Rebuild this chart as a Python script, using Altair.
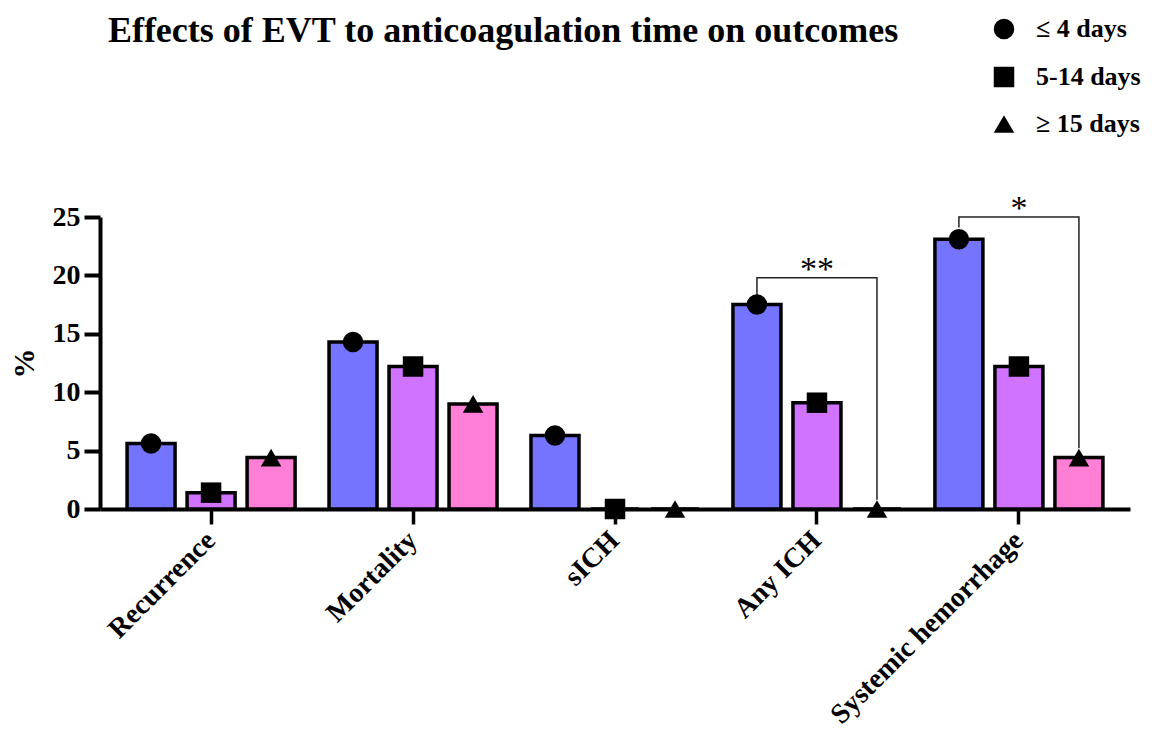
import altair as alt
import pandas as pd

categories = ["Recurrence", "Mortality", "sICH", "Any ICH", "Systemic hemorrhage"]
series = ["≤ 4 days", "5-14 days", "≥ 15 days"]
vals_le4 = [5.6, 14.3, 6.3, 17.5, 23.1]
vals_5_14 = [1.4, 12.2, 0.0, 9.1, 12.2]
vals_ge15 = [4.4, 9.0, 0.0, 0.0, 4.4]
bar_colors = ["#7474FF", "#D074FF", "#FF7ED6"]
shapes = ["circle", "square", "triangle-up"]
y_ticks = [0, 5, 10, 15, 20, 25]

# significance brackets (data units)
sig_cats = ["Any ICH", "Systemic hemorrhage"]
sig_labels = ["**", "*"]
sig_top = [19.8, 25.0]
sig_left_end = [18.2, 24.1]
sig_right_end = [0.8, 5.2]

rows = []
for s, vals in zip(series, [vals_le4, vals_5_14, vals_ge15]):
    for c, v in zip(categories, vals):
        rows.append({"category": c, "series": s, "group": s, "timing": s, "value": v})
df = pd.DataFrame(rows)

brows = []
for i, c in enumerate(sig_cats):
    pts = [(series[0], sig_left_end[i]), (series[0], sig_top[i]),
           (series[2], sig_top[i]), (series[2], sig_right_end[i])]
    for k, (s, v) in enumerate(pts):
        brows.append({"category": c, "series": s, "value": v, "bid": i, "ord": k})
bdf = pd.DataFrame(brows)
sdf = pd.DataFrame({"category": sig_cats, "value": sig_top, "label": sig_labels})

SERIF = "Liberation Serif"

x_axis = alt.Axis(title=None, labelAngle=-45, labelAlign="right", labelBaseline="middle",
                  labelFont=SERIF, labelFontWeight="bold",
                  labelFontSize=28, labelColor="black", labelPadding=12, labelLimit=500,
                  domainWidth=4, domainColor="black", tickWidth=3.5, tickSize=15,
                  tickColor="black", grid=False)
y_axis = alt.Axis(title="%", values=y_ticks, labelFont=SERIF, labelFontWeight="bold",
                  labelFontSize=28, labelColor="black", labelPadding=4,
                  titleFont=SERIF, titleFontWeight="bold", titleFontSize=30,
                  titleColor="black", titlePadding=13,
                  domainWidth=4, domainColor="black", tickWidth=4, tickSize=16,
                  tickColor="black", grid=False)

def X():
    return alt.X("category:N", sort=categories,
                 scale=alt.Scale(paddingInner=0.168, paddingOuter=0.134), axis=x_axis)

def XO():
    return alt.XOffset("series:N", sort=series,
                       scale=alt.Scale(paddingInner=0.2, paddingOuter=0))

def Y():
    return alt.Y("value:Q", scale=alt.Scale(domain=[0, 25], nice=False, zero=True), axis=y_axis)

base = alt.Chart(df)

# colour scale takes its domain from the data (sorted), so its (hidden) legend
# is not merged with the shape legend
bars = base.mark_bar(stroke="black", strokeWidth=3.5).encode(
    x=X(), xOffset=XO(), y=Y(),
    color=alt.Color("group:N", sort=series,
                    scale=alt.Scale(range=bar_colors), legend=None),
)

points = base.mark_point(filled=True, size=420, opacity=1, color="black").encode(
    x=X(), xOffset=XO(), y=Y(),
    shape=alt.Shape("timing:N", sort=series,
                    scale=alt.Scale(domain=series, range=shapes),
                    legend=alt.Legend(title=None, orient="none", legendX=891, legendY=-201,
                                      labelFont=SERIF, labelFontWeight="bold",
                                      labelFontSize=26, labelColor="black",
                                      symbolSize=420, symbolFillColor="black",
                                      symbolStrokeColor="black",
                                      rowPadding=20, labelOffset=19)),
)

brackets = alt.Chart(bdf).mark_line(color="#222222", strokeWidth=1.5).encode(
    x=X(), xOffset=XO(), y=Y(),
    detail="bid:N", order="ord:Q",
)

stars = alt.Chart(sdf).mark_text(font=SERIF, fontSize=34, color="black",
                                 baseline="alphabetic", dy=2).encode(
    x=X(), y=Y(), text="label:N",
)

chart = alt.layer(bars, brackets, points, stars).properties(
    width=1030, height=292,
    autosize=alt.AutoSizeParams(type="none"),
    padding={"left": 92, "top": 209, "right": 12, "bottom": 216},
    title=alt.TitleParams(text="Effects of EVT to anticoagulation time on outcomes",
                          font=SERIF, fontWeight="bold", fontSize=36, color="black",
                          anchor="middle", dx=-112, offset=-34),
).configure_view(stroke=None)

chart.save("out.html", embed_options={"renderer": "svg", "actions": False})
